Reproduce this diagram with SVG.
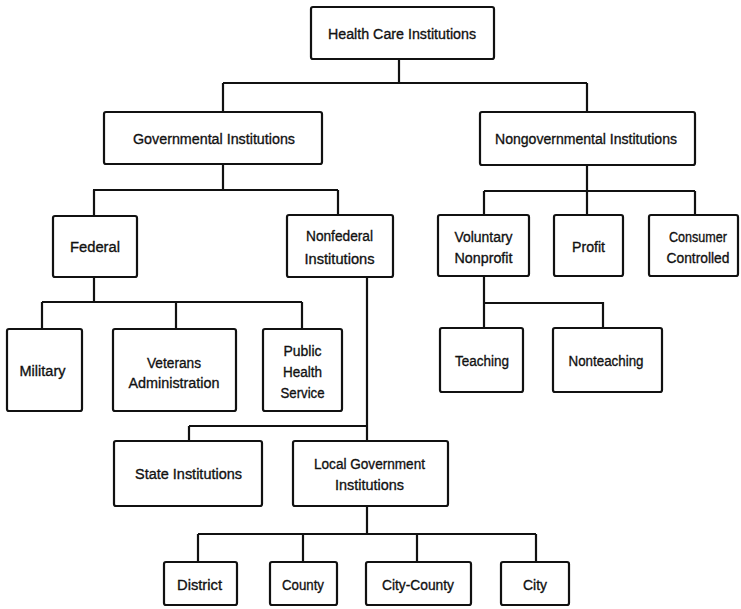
<svg xmlns="http://www.w3.org/2000/svg" width="741" height="609" viewBox="0 0 741 609">
<style>
.box{fill:#fff;stroke:#111;stroke-width:2.2}
.ln{fill:none;stroke:#111;stroke-width:2.2}
text{font-family:"Liberation Sans",Arial,sans-serif;font-size:15.5px;fill:#111;stroke:#111;stroke-width:0.35;text-anchor:middle}
</style>
<rect width="741" height="609" fill="#fff"/>
<g id="connectors" class="ln">
<path d="M399,59V83M223,83H587M223,83V112M587,83V112"/>
<path d="M223,164V190M93,190H338M94,190V216M338,190V215"/>
<path d="M587,165V191M484,191H695M484,191V215M587,191V215M695,191V215"/>
<path d="M94,277V302M42,302H302M42,302V329M176,302V329M302,302V329"/>
<path d="M484,276V303H603V328M484,303V328"/>
<path d="M367,277V441M189,426H367M189,426V441"/>
<path d="M367,506V534M198,534H536M198,534V562M303,534V562M417,534V562M536,534V562"/>
</g>
<g id="n-health"><rect class="box" x="311" y="7" width="183" height="52" rx="2"/><text x="402" y="38.5" textLength="148" lengthAdjust="spacingAndGlyphs">Health Care Institutions</text></g>
<g id="n-gov"><rect class="box" x="104" y="112" width="218" height="52" rx="2"/><text x="214" y="143.5" textLength="162" lengthAdjust="spacingAndGlyphs">Governmental Institutions</text></g>
<g id="n-nongov"><rect class="box" x="480" y="112" width="215" height="53" rx="2"/><text x="586" y="144" textLength="182" lengthAdjust="spacingAndGlyphs">Nongovernmental Institutions</text></g>
<g id="n-federal"><rect class="box" x="53" y="216" width="84" height="61" rx="2"/><text x="95" y="251.5" textLength="50" lengthAdjust="spacingAndGlyphs">Federal</text></g>
<g id="n-nonfederal"><rect class="box" x="287" y="215" width="106" height="62" rx="2"/><text x="339.5" y="240.5" textLength="67" lengthAdjust="spacingAndGlyphs">Nonfederal</text><text x="339.5" y="263.5" textLength="70" lengthAdjust="spacingAndGlyphs">Institutions</text></g>
<g id="n-voluntary"><rect class="box" x="438" y="215" width="91" height="61" rx="2"/><text x="483.5" y="241.5" textLength="58" lengthAdjust="spacingAndGlyphs">Voluntary</text><text x="483.5" y="262.5" textLength="58" lengthAdjust="spacingAndGlyphs">Nonprofit</text></g>
<g id="n-profit"><rect class="box" x="554" y="215" width="69" height="61" rx="2"/><text x="588.5" y="251.5" textLength="33" lengthAdjust="spacingAndGlyphs">Profit</text></g>
<g id="n-consumer"><rect class="box" x="649" y="215" width="89" height="61" rx="2"/><text x="698" y="241.5" textLength="58" lengthAdjust="spacingAndGlyphs">Consumer</text><text x="698" y="262.5" textLength="63" lengthAdjust="spacingAndGlyphs">Controlled</text></g>
<g id="n-military"><rect class="box" x="7" y="329" width="75" height="82" rx="2"/><text x="42.5" y="375.5" textLength="46" lengthAdjust="spacingAndGlyphs">Military</text></g>
<g id="n-veterans"><rect class="box" x="113" y="329" width="123" height="82" rx="2"/><text x="174" y="367.5" textLength="54" lengthAdjust="spacingAndGlyphs">Veterans</text><text x="174" y="387.5" textLength="91" lengthAdjust="spacingAndGlyphs">Administration</text></g>
<g id="n-phs"><rect class="box" x="263" y="329" width="79" height="82" rx="2"/><text x="302.5" y="355.5" textLength="38" lengthAdjust="spacingAndGlyphs">Public</text><text x="302.5" y="376.5" textLength="39" lengthAdjust="spacingAndGlyphs">Health</text><text x="302.5" y="397.5" textLength="44" lengthAdjust="spacingAndGlyphs">Service</text></g>
<g id="n-teaching"><rect class="box" x="440" y="328" width="83" height="64" rx="2"/><text x="482" y="365.5" textLength="54" lengthAdjust="spacingAndGlyphs">Teaching</text></g>
<g id="n-nonteaching"><rect class="box" x="553" y="328" width="109" height="64" rx="2"/><text x="606" y="365.5" textLength="75" lengthAdjust="spacingAndGlyphs">Nonteaching</text></g>
<g id="n-state"><rect class="box" x="114" y="441" width="148" height="65" rx="2"/><text x="188.5" y="478.5" textLength="107" lengthAdjust="spacingAndGlyphs">State Institutions</text></g>
<g id="n-local"><rect class="box" x="293" y="441" width="155" height="65" rx="2"/><text x="369.5" y="468.5" textLength="111" lengthAdjust="spacingAndGlyphs">Local Government</text><text x="369.5" y="489.5" textLength="69" lengthAdjust="spacingAndGlyphs">Institutions</text></g>
<g id="n-district"><rect class="box" x="164" y="562" width="73" height="43" rx="2"/><text x="199.5" y="590" textLength="45" lengthAdjust="spacingAndGlyphs">District</text></g>
<g id="n-county"><rect class="box" x="270" y="562" width="67" height="43" rx="2"/><text x="303" y="590" textLength="42" lengthAdjust="spacingAndGlyphs">County</text></g>
<g id="n-citycounty"><rect class="box" x="366" y="562" width="105" height="43" rx="2"/><text x="418" y="590" textLength="72" lengthAdjust="spacingAndGlyphs">City-County</text></g>
<g id="n-city"><rect class="box" x="501" y="562" width="68" height="43" rx="2"/><text x="535" y="590" textLength="24" lengthAdjust="spacingAndGlyphs">City</text></g>
</svg>
